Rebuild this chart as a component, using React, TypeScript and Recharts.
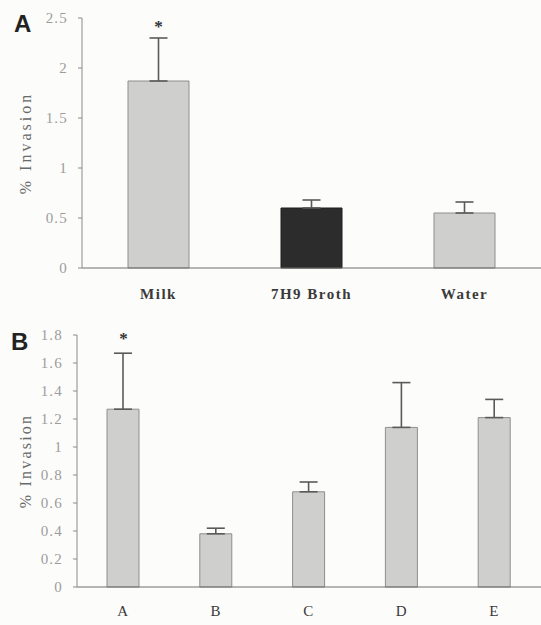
import { Bar, Cell, ComposedChart, ErrorBar, LabelList, Line, XAxis, YAxis } from 'recharts';

// panel A: invasion after growth medium
const mediumLabels = ['Milk', '7H9 Broth', 'Water'];
const mediumMeans = [1.87, 0.6, 0.55];
const mediumErrors = [0.43, 0.08, 0.11];
const mediumSig = ['*', '', ''];
const mediumTicks = [0, 0.5, 1, 1.5, 2, 2.5];

// panel B: invasion by condition
const strainLabels = ['A', 'B', 'C', 'D', 'E'];
const strainMeans = [1.27, 0.38, 0.68, 1.14, 1.21];
const strainErrors = [0.4, 0.04, 0.07, 0.32, 0.13];
const strainSig = ['*', '', '', '', ''];
const strainTicks = [0, 0.2, 0.4, 0.6, 0.8, 1, 1.2, 1.4, 1.6, 1.8];

const LIGHT = '#cfcfcd';
const DARK = '#2c2c2c';
const mediumFills = [LIGHT, DARK, LIGHT];
const serif = 'Liberation Serif, DejaVu Serif, serif';

type Row = { name: string; mean: number; err: [number, number]; top: number; sig: string };

function buildRows(labels: string[], means: number[], errors: number[], sig: string[]): Row[] {
  return labels.map((name, i) => ({
    name,
    mean: means[i],
    err: [0, errors[i]],
    top: means[i] + errors[i],
    sig: sig[i],
  }));
}

type PanelProps = {
  rows: Row[];
  ticks: number[];
  height: number;
  top: number;
  bottom: number;
  axisWidth: number;
  barSize: number;
  fills: string[];
  labelBold: boolean;
  labelMargin: number;
  titleSpacing: number;
  starOffset: number;
};

function Panel({ rows, ticks, height, top, bottom, axisWidth, barSize, fills, labelBold, labelMargin, titleSpacing, starOffset }: PanelProps) {
  return (
    <ComposedChart width={541} height={height} data={rows} margin={{ top, right: 0, left: 0, bottom }}>
      <XAxis
        dataKey="name"
        height={30}
        tickLine={false}
        tickSize={0}
        tickMargin={labelMargin}
        axisLine={{ stroke: '#6f6f6f', strokeWidth: 1.2 }}
        tick={{
          fill: '#3a3a3a',
          fontSize: 15,
          fontWeight: labelBold ? 700 : 400,
          style: { fontFamily: serif, letterSpacing: 1.5 },
        }}
      />
      <YAxis
        width={axisWidth}
        domain={[0, ticks[ticks.length - 1]]}
        ticks={ticks}
        interval={0}
        tickSize={4}
        tickMargin={10}
        axisLine={{ stroke: '#8a8a8a' }}
        tickLine={{ stroke: '#8a8a8a' }}
        tick={{ fill: '#9c9c9c', fontSize: 15, style: { fontFamily: serif, letterSpacing: 1.2 } }}
        label={{
          value: '% Invasion',
          angle: -90,
          position: 'insideLeft',
          offset: 25,
          style: { textAnchor: 'middle', fill: '#6a6a6a', fontSize: 16, fontFamily: serif, letterSpacing: titleSpacing },
        }}
      />
      <Bar dataKey="mean" barSize={barSize} isAnimationActive={false}>
        {rows.map((r, i) => (
          <Cell key={r.name} fill={fills[i]} stroke={fills[i] === DARK ? '#1e1e1e' : '#8e8e8e'} strokeWidth={1} />
        ))}
        <ErrorBar dataKey="err" direction="y" width={9} stroke="#5a5a5a" strokeWidth={1.6} />
      </Bar>
      <Line dataKey="top" stroke="none" dot={false} activeDot={false} isAnimationActive={false}>
        <LabelList
          dataKey="sig"
          position="top"
          offset={starOffset}
          fill="#333"
          fontSize={17}
          fontWeight={700}
          style={{ fontFamily: serif }}
        />
      </Line>
    </ComposedChart>
  );
}

export default function App() {
  const mediumRows = buildRows(mediumLabels, mediumMeans, mediumErrors, mediumSig);
  const strainRows = buildRows(strainLabels, strainMeans, strainErrors, strainSig);
  const letter = {
    position: 'absolute' as const,
    fontFamily: 'Liberation Sans, Arial, sans-serif',
    fontWeight: 700,
    fontSize: 24,
    color: '#222',
    lineHeight: 1,
  };

  return (
    <div style={{ position: 'absolute', top: 0, left: 0, width: 541, height: 625, background: '#fcfcfb', overflow: 'hidden' }}>
      <div style={{ position: 'absolute', top: 0, left: 0 }}>
        <Panel
          rows={mediumRows}
          ticks={mediumTicks}
          height={310}
          top={18}
          bottom={12}
          axisWidth={82}
          barSize={61}
          fills={mediumFills}
          labelBold
          labelMargin={20}
          titleSpacing={3}
          starOffset={6}
        />
      </div>
      <div style={{ position: 'absolute', top: 310, left: 0 }}>
        <Panel
          rows={strainRows}
          ticks={strainTicks}
          height={315}
          top={25}
          bottom={8}
          axisWidth={77}
          barSize={32}
          fills={strainRows.map(() => LIGHT)}
          labelBold={false}
          labelMargin={18}
          titleSpacing={2.2}
          starOffset={9}
        />
      </div>
      <div style={{ ...letter, left: 14, top: 12 }}>A</div>
      <div style={{ ...letter, left: 11, top: 330 }}>B</div>
    </div>
  );
}
